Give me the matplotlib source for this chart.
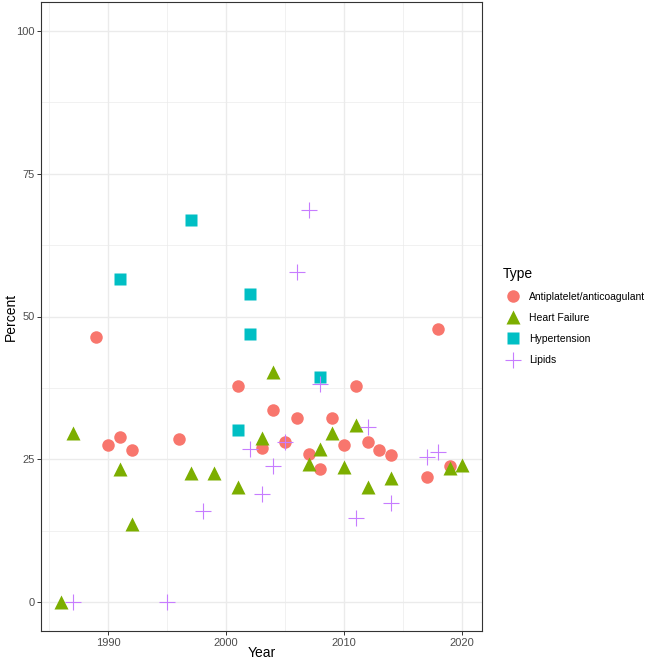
import matplotlib.pyplot as plt
from matplotlib.lines import Line2D

plt.rcParams['font.family'] = ['Liberation Sans', 'DejaVu Sans']

# values
anti_year = [1989, 1990, 1991, 1992, 1996, 2001, 2003, 2004, 2005, 2006, 2007, 2008,
             2009, 2010, 2011, 2012, 2013, 2014, 2017, 2018, 2019]
anti_pct = [46.4, 27.6, 29.0, 26.7, 28.6, 37.9, 27.0, 33.6, 28.0, 32.3, 26.0, 23.3,
            32.3, 27.5, 37.9, 28.0, 26.6, 25.8, 22.0, 47.9, 23.8]

hf_year = [1986, 1987, 1991, 1992, 1997, 1999, 2001, 2003, 2004, 2007, 2008, 2009,
           2010, 2011, 2012, 2014, 2019, 2020]
hf_pct = [0.0, 29.7, 23.3, 13.7, 22.6, 22.6, 20.2, 28.7, 40.3, 24.2, 26.8, 29.7,
          23.6, 31.1, 20.1, 21.8, 23.5, 24.1]

hyp_year = [1991, 1997, 2001, 2002, 2002, 2008]
hyp_pct = [56.6, 66.8, 30.2, 54.0, 47.0, 39.5]

lip_year = [1987, 1995, 1998, 2002, 2003, 2004, 2005, 2006, 2007, 2008, 2011, 2012,
            2014, 2017, 2018]
lip_pct = [0.0, 0.0, 16.0, 26.8, 18.9, 23.8, 28.1, 57.8, 68.6, 38.2, 14.8, 30.6,
           17.3, 25.5, 26.3]

types = ['Antiplatelet/anticoagulant', 'Heart Failure', 'Hypertension', 'Lipids']
colors = ['#F8766D', '#7CAE00', '#00BFC4', '#C77CFF']

fig = plt.figure(figsize=(6.49, 6.63), dpi=100)
W, H = 649, 663
ax = fig.add_axes([41 / W, (H - 631) / H, (482 - 41) / W, (631 - 2) / H])

ax.plot(anti_year, anti_pct, 'o', ms=9.0, color=colors[0], mec='none', zorder=3)
ax.plot(hf_year, hf_pct, '^', ms=10.0, color=colors[1], mec='none', zorder=3)
ax.plot(hyp_year, hyp_pct, 's', ms=8.0, color=colors[2], mec='none', zorder=3)
ax.plot(lip_year, lip_pct, '+', ms=11.5, mew=0.8, color=colors[3], zorder=3)

xmin, xmax = 1986, 2020
pad = (xmax - xmin) * 0.05
ax.set_xlim(xmin - pad, xmax + pad)
ax.set_ylim(-5, 105)

ax.set_xticks([1990, 2000, 2010, 2020])
ax.set_xticks([1985, 1995, 2005, 2015], minor=True)
ax.set_yticks([0, 25, 50, 75, 100])
ax.set_yticks([12.5, 37.5, 62.5, 87.5], minor=True)
ax.grid(True, which='major', color='#EBEBEB', lw=1.0, zorder=0)
ax.grid(True, which='minor', color='#EBEBEB', lw=0.5, zorder=0)
ax.set_axisbelow(True)
ax.tick_params(which='major', length=2.7, width=0.7, color='#333333',
               labelcolor='#4D4D4D', labelsize=8, pad=2)
ax.tick_params(which='minor', length=0)
for s in ax.spines.values():
    s.set_color('#333333')
    s.set_linewidth(0.8)

ax.set_xlabel('Year', fontsize=10, labelpad=-1)
ax.set_ylabel('Percent', fontsize=10, labelpad=-1.5)

handles = [
    Line2D([], [], ls='none', marker='o', ms=9.0, color=colors[0], mec='none'),
    Line2D([], [], ls='none', marker='^', ms=10.0, color=colors[1], mec='none'),
    Line2D([], [], ls='none', marker='s', ms=8.0, color=colors[2], mec='none'),
    Line2D([], [], ls='none', marker='+', ms=11.5, mew=0.8, color=colors[3]),
]
leg = fig.legend(handles, types, title='Type', loc='upper left',
                 bbox_to_anchor=(503 / W, 1 - 267 / H), frameon=False,
                 fontsize=7.5, title_fontsize=10, handlelength=1.95,
                 handletextpad=0.57, labelspacing=1.06, borderaxespad=0,
                 borderpad=0)
leg._legend_box.align = 'left'

fig.savefig('out.png', dpi=100)
